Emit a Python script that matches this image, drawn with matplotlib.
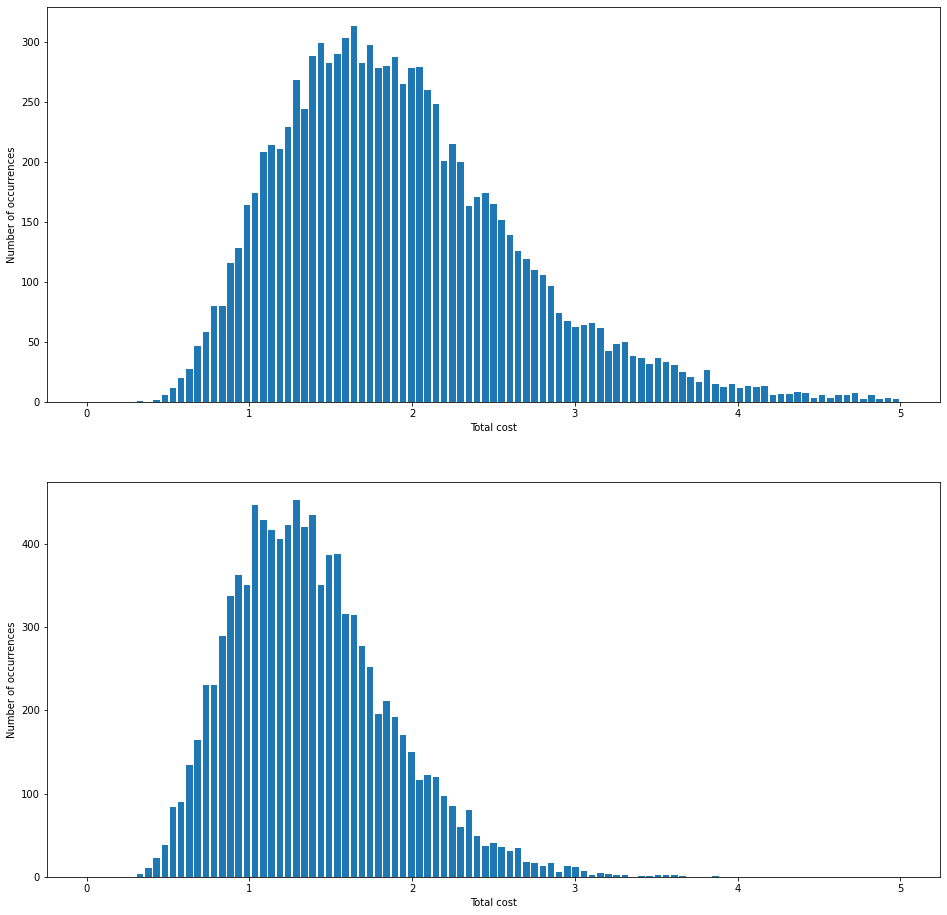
import matplotlib
matplotlib.use('Agg')
import matplotlib.pyplot as plt
import numpy as np

# bin edges of the cost histogram (99 bins between 0 and 5)
edges = np.linspace(0, 5, 100)
centers = (edges[:-1] + edges[1:]) / 2

# counts per bin, upper plot
counts_top = [0, 0, 0, 0, 0, 0, 1, 0, 2, 6,
              12, 20, 28, 47, 59, 80, 80, 116, 128, 164,
              174, 208, 214, 211, 229, 268, 244, 288, 299, 282,
              290, 303, 313, 282, 297, 278, 280, 287, 265, 278,
              279, 260, 248, 201, 215, 200, 163, 171, 174, 165,
              152, 139, 126, 119, 110, 106, 97, 74, 68, 63,
              64, 66, 62, 43, 49, 50, 39, 37, 32, 37,
              34, 31, 25, 21, 17, 27, 15, 13, 15, 12,
              14, 13, 14, 6, 7, 7, 9, 8, 4, 6,
              4, 6, 6, 8, 3, 6, 3, 4, 3]

# counts per bin, lower plot
counts_bottom = [0, 0, 0, 0, 0, 0, 4, 11, 23, 38,
                 84, 90, 134, 164, 231, 231, 289, 337, 362, 351,
                 447, 429, 417, 406, 423, 452, 420, 434, 350, 386,
                 388, 316, 315, 277, 252, 196, 211, 192, 170, 150,
                 116, 122, 120, 97, 85, 60, 81, 49, 37, 41,
                 36, 31, 35, 18, 17, 13, 17, 6, 13, 12,
                 7, 2, 5, 4, 2, 2, 0, 1, 1, 2,
                 2, 2, 1, 0, 0, 0, 1, 0, 0, 0,
                 0, 0, 0, 0, 0, 0, 0, 0, 0, 0,
                 0, 0, 0, 0, 0, 0, 0, 0, 0]

fig = plt.figure(figsize=(947 / 72, 915 / 72), dpi=72)
plt.subplots_adjust(left=0.0496, right=0.9926, top=0.9923, bottom=0.0415, hspace=0.2)

plt.subplot(2, 1, 1)
plt.bar(centers, counts_top, width=0.04)
plt.xlabel('Total cost')
plt.ylabel('Number of occurrences')

plt.subplot(2, 1, 2)
plt.bar(centers, counts_bottom, width=0.04)
plt.xlabel('Total cost')
plt.ylabel('Number of occurrences')

plt.savefig('out.png', dpi=72)
